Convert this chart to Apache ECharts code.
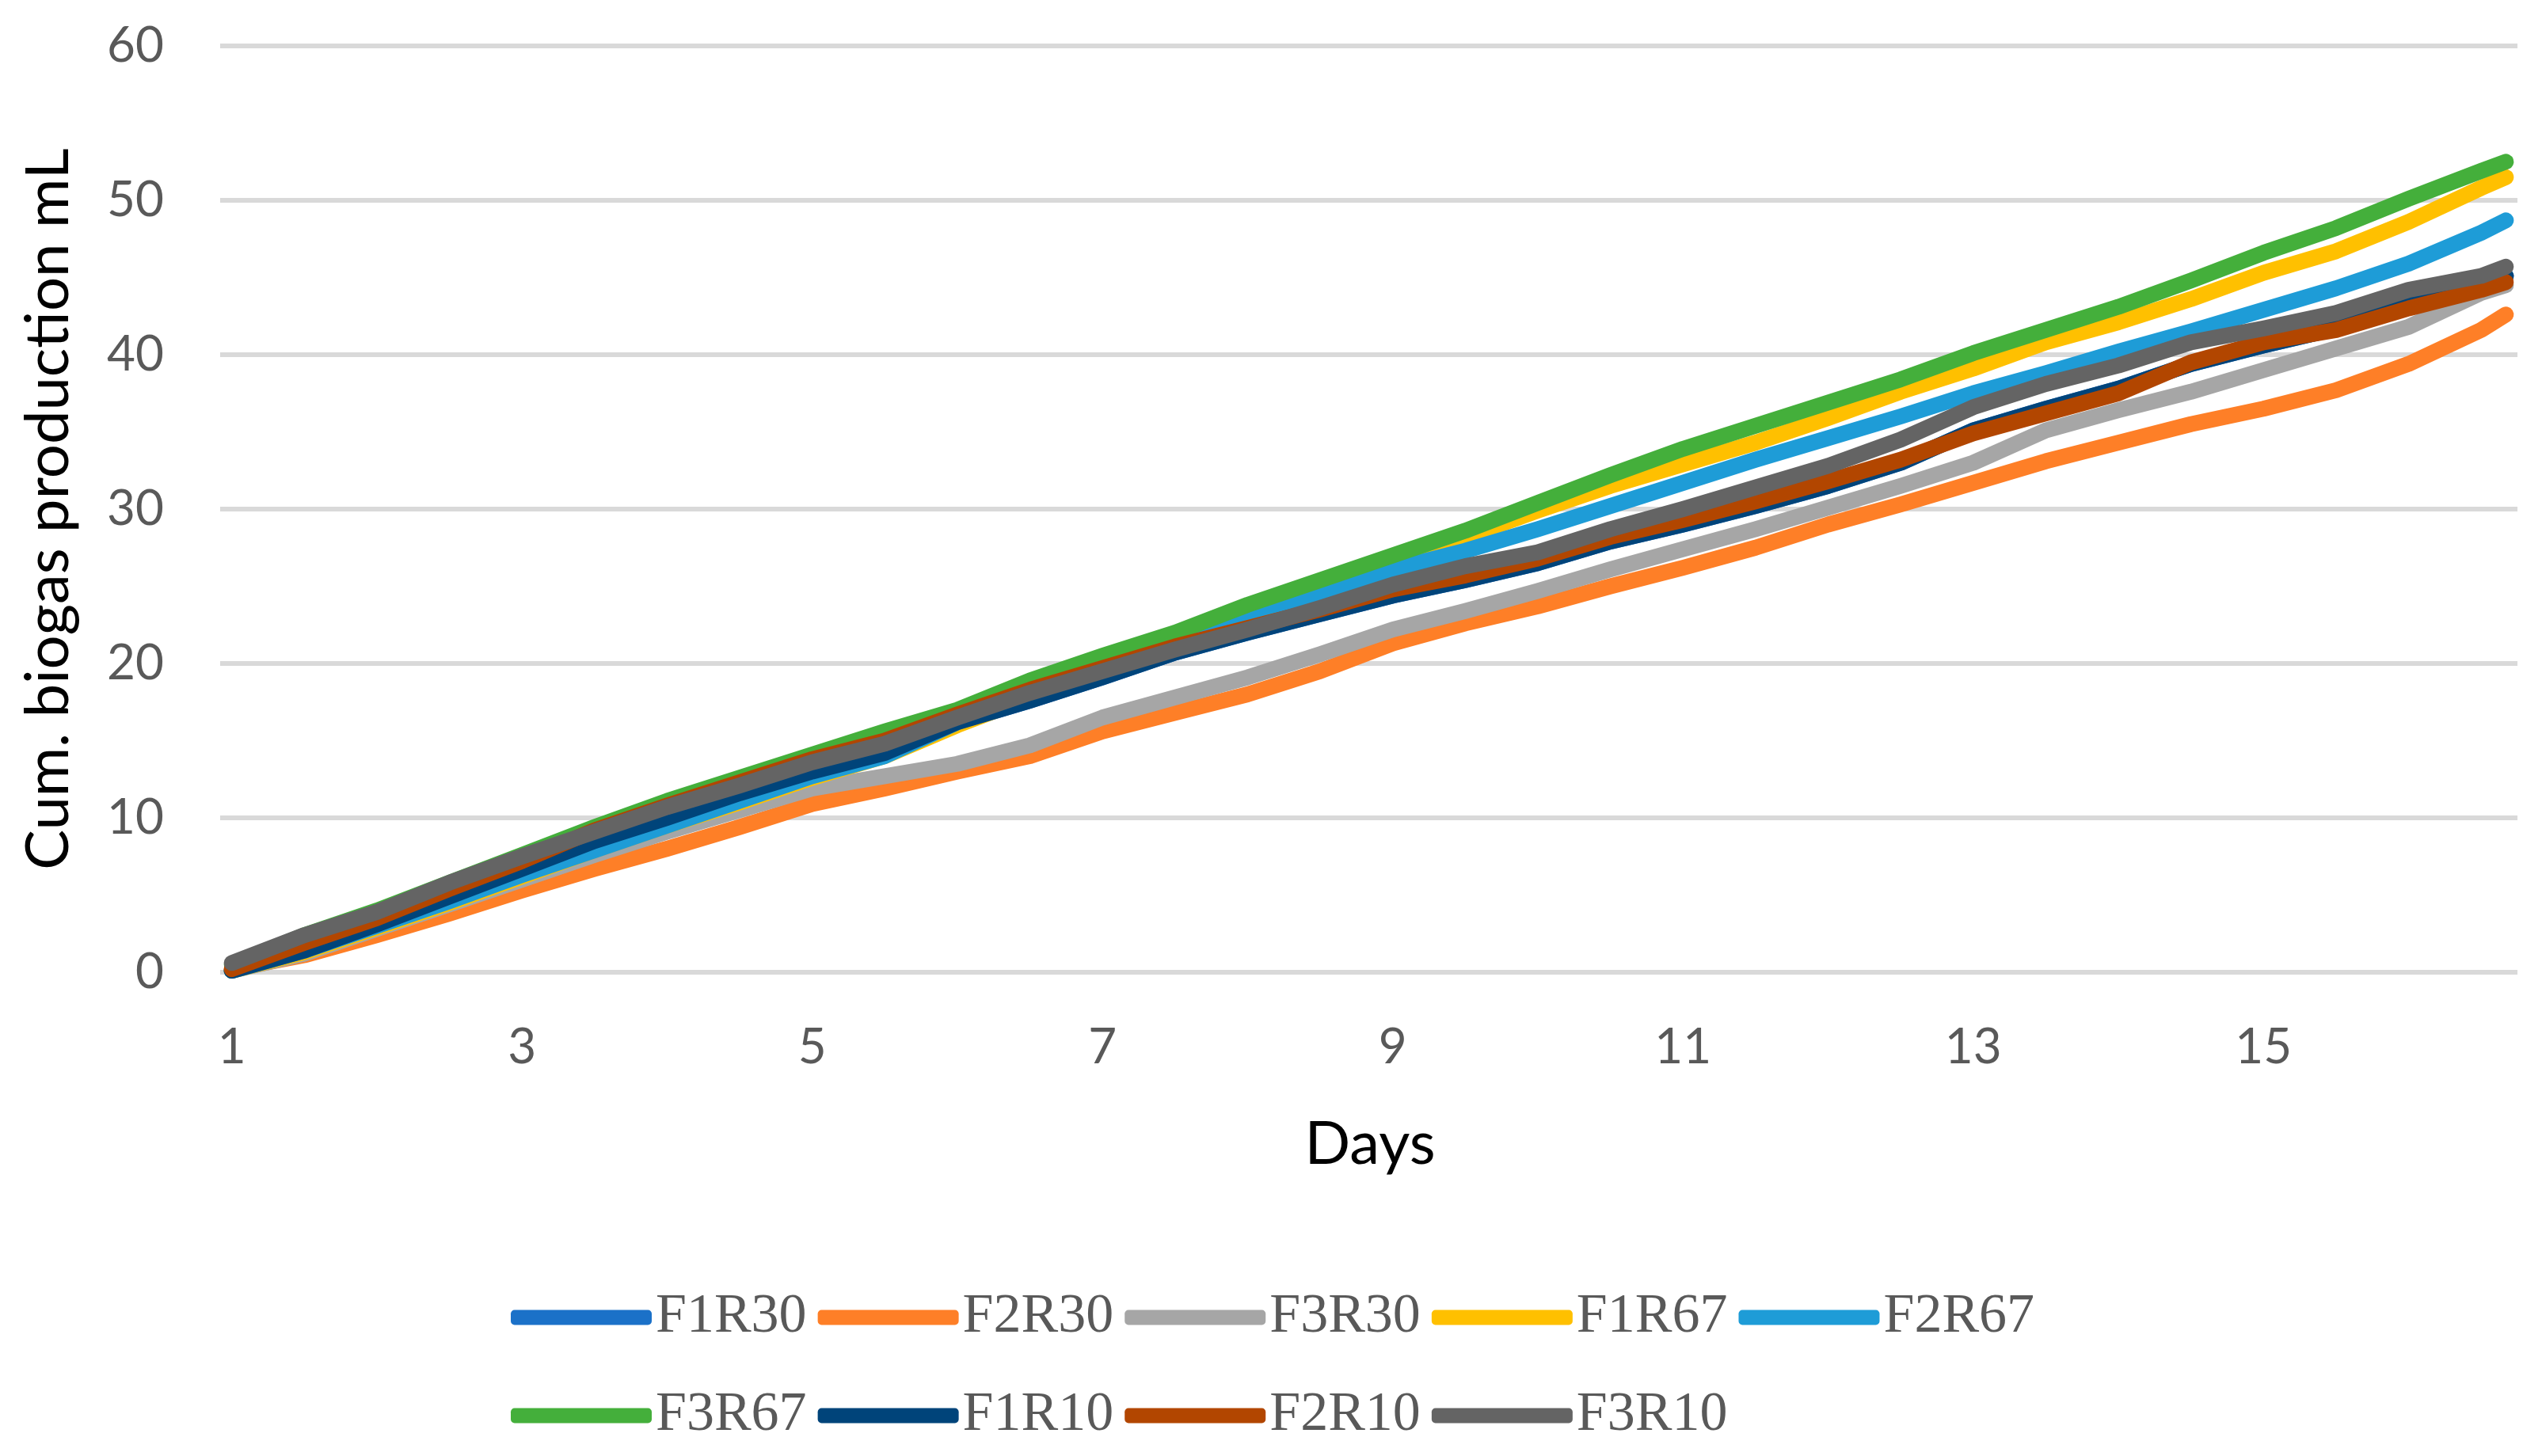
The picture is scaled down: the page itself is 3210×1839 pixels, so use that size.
<!DOCTYPE html>
<html>
<head>
<meta charset="utf-8">
<script src="https://cdn.jsdelivr.net/npm/echarts@6/dist/echarts.min.js"></script>
<style>
html,body{margin:0;padding:0;background:#fff;}
#chart{width:3210px;height:1839px;}
</style>
</head>
<body>
<div id="chart"></div>
<script>
const days = [1,1.5,2,2.5,3,3.5,4,4.5,5,5.5,6,6.5,7,7.5,8,8.5,9,9.5,10,10.5,11,11.5,12,12.5,13,13.5,14,14.5,15,15.5,16,16.5,16.67];
const xTickLabels = [1,3,5,7,9,11,13,15];
const yTicks = [0,10,20,30,40,50,60];

const F1R30 = [0.1,1.4,3.1,4.9,6.7,8.5,10.0,11.6,13.0,14.2,16.2,17.6,19.1,20.7,22.0,23.2,24.4,25.4,26.5,27.9,29.0,30.2,31.5,33.0,35.1,36.5,37.8,39.4,40.6,41.7,43.3,44.6,45.1];
const F2R30 = [0.2,1.1,2.4,3.8,5.3,6.7,8.0,9.4,10.9,11.9,13.0,14.0,15.6,16.8,18.0,19.5,21.3,22.6,23.7,25.0,26.2,27.5,29.0,30.3,31.7,33.1,34.3,35.5,36.5,37.7,39.4,41.6,42.6];
const F3R30 = [0.1,1.2,2.8,4.4,6.0,7.6,9.1,10.5,11.9,12.7,13.5,14.7,16.5,17.8,19.1,20.6,22.2,23.4,24.7,26.1,27.4,28.7,30.1,31.5,33.0,35.1,36.4,37.6,39.0,40.4,41.8,44.0,44.5];
const F1R67 = [0.1,1.3,2.9,4.5,6.2,7.9,9.5,11.0,12.6,14.0,16.0,17.8,19.4,21.0,22.8,24.6,26.4,28.2,29.9,31.5,32.9,34.3,35.9,37.6,39.1,40.8,42.1,43.6,45.3,46.7,48.6,50.8,51.5];
const F2R67 = [0.1,1.4,3.0,4.6,6.3,7.9,9.5,11.1,12.7,14.0,16.2,17.8,19.5,21.2,23.0,24.6,26.1,27.3,28.7,30.2,31.7,33.2,34.6,36.0,37.5,38.8,40.2,41.5,42.9,44.3,45.9,47.9,48.7];
const F3R67 = [0.5,2.4,4.0,5.8,7.6,9.4,11.1,12.6,14.1,15.6,17.0,18.9,20.5,22.0,23.8,25.4,27.0,28.6,30.4,32.2,33.9,35.4,36.9,38.4,40.1,41.6,43.1,44.8,46.6,48.2,50.1,51.9,52.5];
const F1R10 = [0.1,1.4,3.1,4.9,6.7,8.5,10.0,11.6,13.0,14.2,16.2,17.6,19.1,20.7,22.0,23.2,24.4,25.4,26.5,27.9,29.0,30.2,31.5,33.0,35.1,36.5,37.8,39.4,40.6,41.7,43.3,44.6,45.1];
const F2R10 = [0.2,1.9,3.5,5.4,7.2,9.2,10.8,12.3,13.8,15.0,16.7,18.3,19.7,21.1,22.3,23.5,24.8,25.7,26.8,28.2,29.3,30.5,31.8,33.2,34.9,36.2,37.5,39.5,40.8,41.6,43.0,44.2,44.7];
const F3R10 = [0.6,2.4,3.9,5.8,7.5,9.1,10.7,12.1,13.6,14.8,16.5,18.1,19.5,20.9,22.2,23.6,25.1,26.3,27.2,28.7,30.0,31.4,32.8,34.5,36.6,38.1,39.3,40.8,41.7,42.7,44.2,45.1,45.7];

const seriesNames = ['F1R30','F2R30','F3R30','F1R67','F2R67','F3R67','F1R10','F2R10','F3R10'];
const seriesValues = [F1R30,F2R30,F3R30,F1R67,F2R67,F3R67,F1R10,F2R10,F3R10];
const seriesColors = ['#1B71C8','#FE7F27','#A6A6A6','#FFC000','#1E9CD7','#44AF3B','#00447A','#B24600','#646464'];

const yTitle = 'Cum. biogas production mL';
const xTitle = 'Days';

const chart = echarts.init(document.getElementById('chart'), null, {renderer:'canvas'});

const series = seriesNames.map((n, i) => ({
  name: n,
  type: 'line',
  data: days.map((d, j) => [d, seriesValues[i][j]]),
  symbol: 'none',
  smooth: false,
  color: seriesColors[i],
  itemStyle: {color: seriesColors[i]},
  lineStyle: {width: 20, color: seriesColors[i], cap: 'round', join: 'round'},
  emphasis: {disabled: true},
  animation: false
}));

const legendCommon = {
  orient: 'horizontal',
  left: 640,
  icon: 'roundRect',
  itemWidth: 178,
  itemHeight: 19,
  itemGap: 14,
  textStyle: {fontFamily: 'Liberation Serif', fontSize: 70, color: '#595959'},
  selectedMode: false
};

chart.setOption({
  animation: false,
  backgroundColor: '#ffffff',
  grid: {left: 278, right: 31, top: 58, bottom: 611, containLabel: false},
  xAxis: {
    type: 'value', min: 0.92, max: 16.75,
    axisLine: {show: false}, axisTick: {show: false}, splitLine: {show: false},
    axisLabel: {customValues: xTickLabels, margin: 64, fontSize: 62, color: '#595959', fontFamily: 'Lato'}
  },
  yAxis: {
    type: 'value', min: yTicks[0], max: yTicks[yTicks.length-1], interval: 10,
    axisLine: {show: false}, axisTick: {show: false},
    splitLine: {lineStyle: {color: '#D9D9D9', width: 6}},
    axisLabel: {margin: 71, fontSize: 62, color: '#595959', fontFamily: 'Lato'}
  },
  legend: [
    Object.assign({}, legendCommon, {top: 1624, data: seriesNames.slice(0,5)}),
    Object.assign({}, legendCommon, {top: 1748, data: seriesNames.slice(5)})
  ],
  graphic: [
    {type: 'text', x: 61, y: 643, rotation: Math.PI/2,
     style: {text: yTitle, fontFamily: 'Lato', fontSize: 76, fill: '#000000', textAlign: 'center', textVerticalAlign: 'middle'}},
    {type: 'text', x: 1730, y: 1445,
     style: {text: xTitle, fontFamily: 'Lato', fontSize: 76, fill: '#000000', textAlign: 'center', textVerticalAlign: 'middle'}}
  ],
  series: series
});
</script>
</body>
</html>
